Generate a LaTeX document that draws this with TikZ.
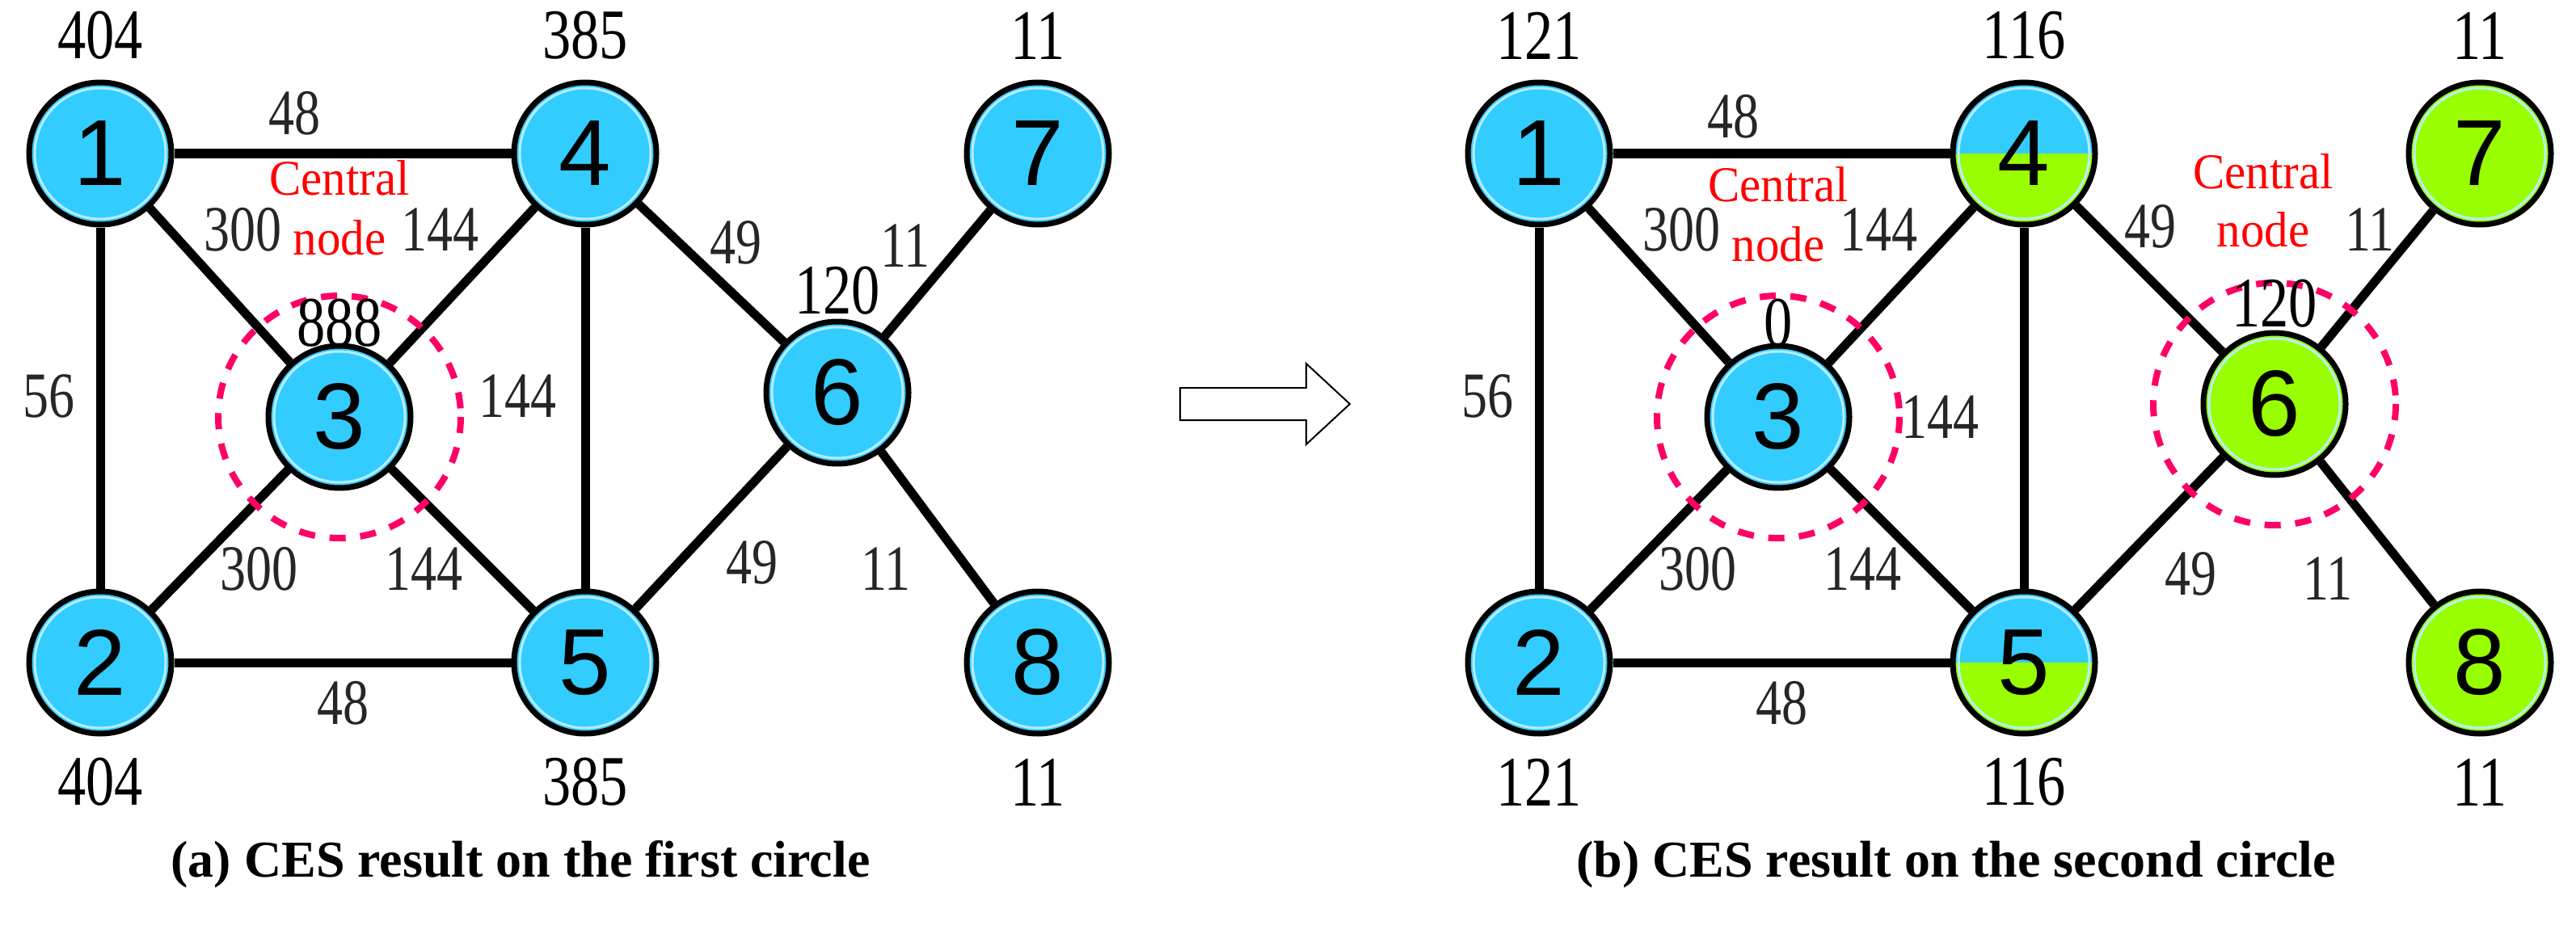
\documentclass[tikz,border=0pt]{standalone}
\usepackage{fontspec}
\setmainfont{Liberation Serif}
\newfontfamily\sansf{Liberation Sans}
\definecolor{nblue}{HTML}{33CCFF}
\definecolor{ngreen}{HTML}{99FF00}
\definecolor{ring}{HTML}{B8ECFF}
\definecolor{cred}{HTML}{FF0066}
\begin{document}
\begin{tikzpicture}[x=1pt,y=-1pt,
  nd/.style={circle,draw=black,line width=3.5pt,fill=nblue,minimum size=88pt,inner sep=0pt,font=\sansf\fontsize{58}{58}\selectfont},
  gn/.style={nd,fill=ngreen},
  hf/.style={nd,path picture={\fill[ngreen] (path picture bounding box.west) rectangle (path picture bounding box.south east);}},
  ed/.style={line width=5.5pt},
  lab/.style={font=\fontsize{44}{44}\selectfont,xscale=0.8,inner sep=0pt},
  el/.style={font=\fontsize{40}{40}\selectfont,xscale=0.8,inner sep=0pt,text=black!85},
  cn/.style={font=\fontsize{31}{31}\selectfont,xscale=0.95,text=red,inner sep=0pt},
  dc/.style={draw=cred,line width=4pt,dash pattern=on 10pt off 9pt},
  captxt/.style={font=\bfseries\fontsize{32}{32}\selectfont}]
\useasboundingbox (0,0) rectangle (1593.5,578);
% ---------- left panel ----------
\node[nd] (a1) at (62,95) {1};
\node[nd] (a2) at (62,410) {2};
\node[nd] (a3) at (210,258) {3};
\node[nd] (a4) at (362,95) {4};
\node[nd] (a5) at (362,410) {5};
\node[nd] (a6) at (518,243) {6};
\node[nd] (a7) at (642,95) {7};
\node[nd] (a8) at (642,410) {8};
\foreach \u/\v in {1/4,1/3,1/2,2/3,2/5,3/4,3/5,4/5,4/6,5/6,6/7,6/8}
  \draw[ed] (a\u) -- (a\v);
\draw[dc] (a3) circle (75);
\node[lab] (la1) at (62,22) {404};
\node[lab] (la4) at (362,22) {385};
\node[lab] (la7) at (642,22) {11};
\node[lab] (la2) at (62,484) {404};
\node[lab] (la5) at (362,484) {385};
\node[lab] (la8) at (642,484) {11};
\node[lab] (la3) at (210,200) {888};
\node[lab] (la6) at (518,180) {120};
\node[el] (e14) at (182,70) {48};
\node[el] (e13) at (150,142) {300};
\node[el] (e34) at (272,142) {144};
\node[el] (e12) at (30,245) {56};
\node[el] (e35b) at (320,245) {144};
\node[el] (e23) at (160,352) {300};
\node[el] (e35) at (262,352) {144};
\node[el] (e25) at (212,435) {48};
\node[el] (e46) at (455,150) {49};
\node[el] (e67) at (560,152) {11};
\node[el] (e56) at (465,348) {49};
\node[el] (e68) at (548,352) {11};
\node[cn] (ca1) at (210,110) {Central};
\node[cn] (ca2) at (210,147) {node};
% ---------- arrow ----------
\draw[line width=1pt,fill=white] (730,240) -- (808,240) -- (808,225) -- (835,250) -- (808,275) -- (808,260) -- (730,260) -- cycle;
% ---------- right panel ----------
\node[nd] (b1) at (952,95) {1};
\node[nd] (b2) at (952,410) {2};
\node[nd] (b3) at (1100,258) {3};
\node[hf] (b4) at (1252,95) {4};
\node[hf] (b5) at (1252,410) {5};
\node[gn] (b6) at (1407,250) {6};
\node[gn] (b7) at (1534,95) {7};
\node[gn] (b8) at (1534,410) {8};
\foreach \u/\v in {1/4,1/3,1/2,2/3,2/5,3/4,3/5,4/5,4/6,5/6,6/7,6/8}
  \draw[ed] (b\u) -- (b\v);
\draw[dc] (b3) circle (75);
\draw[dc] (b6) circle (75);
\node[lab] (lb1) at (952,22) {121};
\node[lab] (lb4) at (1252,22) {116};
\node[lab] (lb7) at (1534,22) {11};
\node[lab] (lb2) at (952,484) {121};
\node[lab] (lb5) at (1252,484) {116};
\node[lab] (lb8) at (1534,484) {11};
\node[lab] (lb3) at (1100,200) {0};
\node[lab] (lb6) at (1407,188) {120};
\node[el] (f14) at (1072,72) {48};
\node[el] (f13) at (1040,142) {300};
\node[el] (f34) at (1162,142) {144};
\node[el] (f12) at (920,245) {56};
\node[el] (f45) at (1200,258) {144};
\node[el] (f23) at (1050,352) {300};
\node[el] (f35) at (1152,352) {144};
\node[el] (f25) at (1102,435) {48};
\node[el] (f46) at (1330,140) {49};
\node[el] (f67) at (1466,142) {11};
\node[el] (f56) at (1355,355) {49};
\node[el] (f68) at (1440,358) {11};
\node[cn] (cb1) at (1100,114) {Central};
\node[cn] (cb2) at (1100,151) {node};
\node[cn] (cb3) at (1400,106) {Central};
\node[cn] (cb4) at (1400,142) {node};
% inner rings
\foreach \n in {a1,a2,a3,a4,a5,a6,a7,a8,b1,b2,b3,b4,b5,b6,b7,b8}
  \draw[ring,line width=1.5pt] (\n.center) circle (40.5);
% captions
\node[captxt] (capa) at (322,535) {(a) CES result on the first circle};
\node[captxt] (capb) at (1210,535) {(b) CES result on the second circle};
\end{tikzpicture}
\end{document}
